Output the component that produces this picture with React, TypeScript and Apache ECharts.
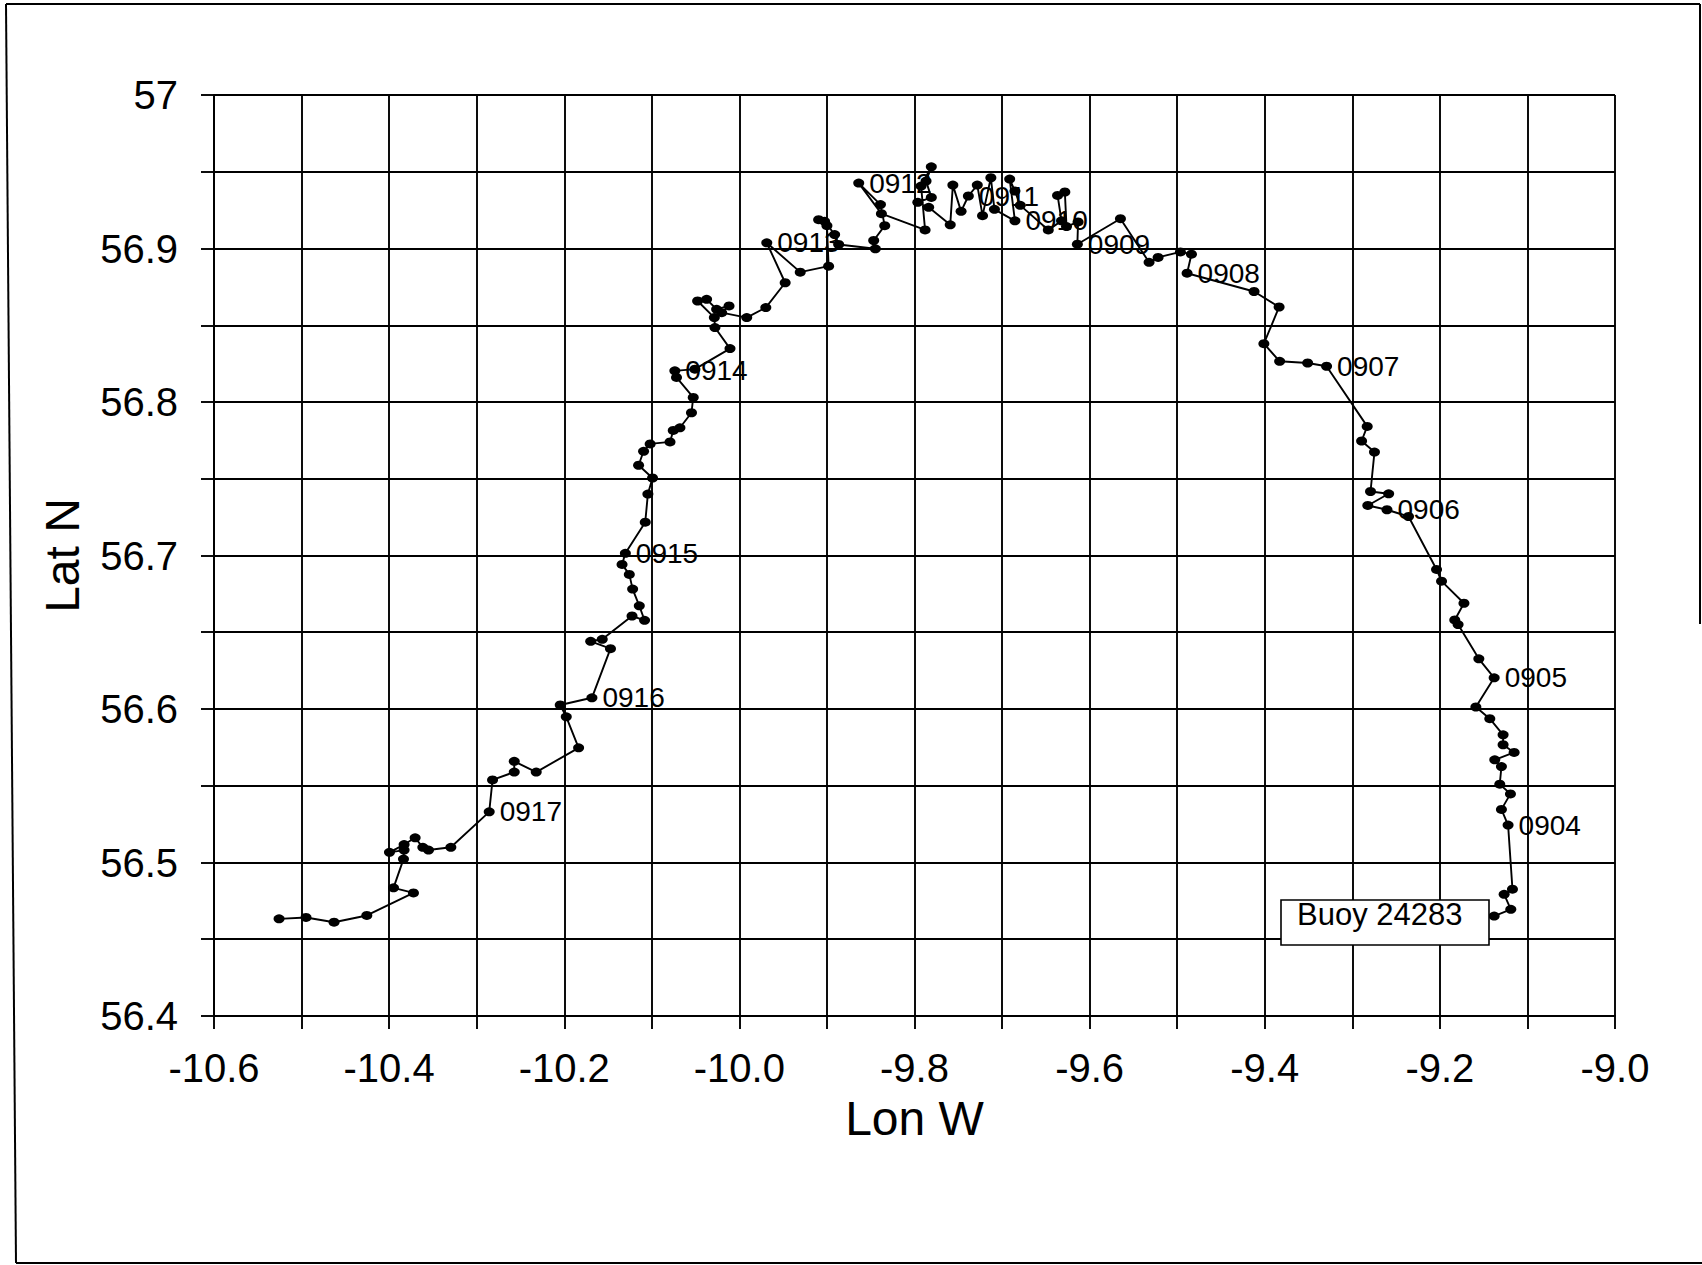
import React, { useEffect, useRef } from "react";
import * as echarts from "echarts";

// Buoy 24283 track, longitude (deg, west negative) in time order
const lon: number[] = [
  -9.138, -9.119, -9.1266, -9.1171, -9.1221, -9.1297, -9.1194, -9.1316, -9.1297, -9.1373,
  -9.1152, -9.1278, -9.1278, -9.143, -9.1589, -9.138, -9.1555, -9.1792, -9.183, -9.1725,
  -9.1981, -9.2038, -9.2358, -9.2604, -9.2823, -9.2585, -9.2792, -9.2747, -9.2894, -9.283,
  -9.3294, -9.351, -9.383, -9.401, -9.3836, -9.4122, -9.4887, -9.4837, -9.4963, -9.5218,
  -9.5321, -9.5648, -9.614, -9.6132, -9.6264, -9.6283, -9.6366, -9.6321, -9.6472, -9.6792,
  -9.6853, -9.6913, -9.6853, -9.7087, -9.7128, -9.7223, -9.7283, -9.7385, -9.7468, -9.7562,
  -9.7592, -9.7838, -9.7962, -9.7808, -9.7868, -9.7808, -9.7925, -9.7879, -9.8378, -9.8637,
  -9.8389, -9.834, -9.8466, -9.8447, -9.8866, -9.8912, -9.9027, -9.9095, -9.9, -9.8981,
  -9.9305, -9.9687, -9.9477, -9.9698, -9.9916, -10.0202, -10.0118, -10.026, -10.0374, -10.0477,
  -10.0286, -10.0279, -10.0107, -10.0508, -10.0737, -10.0718, -10.0527, -10.0547, -10.0679, -10.0755,
  -10.0792, -10.1019, -10.1094, -10.1151, -10.0992, -10.1045, -10.1075, -10.1302, -10.134, -10.1257,
  -10.1219, -10.1143, -10.1083, -10.1226, -10.1566, -10.1698, -10.1472, -10.1684, -10.2046, -10.1977,
  -10.1836, -10.232, -10.2571, -10.2571, -10.2819, -10.2857, -10.3295, -10.355, -10.3615, -10.3703,
  -10.3829, -10.3996, -10.3829, -10.3836, -10.395, -10.3722, -10.4255, -10.4629, -10.4949, -10.5257,
];

// latitude (deg N), same order
const lat: number[] = [
  56.4651, 56.4695, 56.4793, 56.4826, 56.5244, 56.5346, 56.5447, 56.551, 56.5625, 56.5669,
  56.5717, 56.5767, 56.5832, 56.5937, 56.6013, 56.6203, 56.6327, 56.655, 56.658, 56.6689,
  56.6833, 56.6909, 56.7254, 56.7298, 56.7326, 56.7402, 56.7417, 56.7674, 56.7746, 56.7841,
  56.8233, 56.8254, 56.8265, 56.838, 56.8619, 56.872, 56.8839, 56.8963, 56.8978, 56.8942,
  56.891, 56.9194, 56.9028, 56.9173, 56.9143, 56.9368, 56.9346, 56.918, 56.9121, 56.9281,
  56.9374, 56.9452, 56.918, 56.9255, 56.9461, 56.9214, 56.9413, 56.9342, 56.9242, 56.9413,
  56.9154, 56.9268, 56.9301, 56.9333, 56.9439, 56.9532, 56.9407, 56.9121, 56.9227, 56.9426,
  56.9286, 56.9149, 56.9052, 56.8998, 56.9026, 56.9091, 56.9177, 56.9188, 56.9149, 56.8885,
  56.8846, 56.9037, 56.8777, 56.8615, 56.855, 56.8582, 56.8626, 56.8604, 56.8669, 56.8658,
  56.855, 56.8485, 56.8348, 56.8214, 56.8203, 56.816, 56.803, 56.793, 56.7832, 56.7815,
  56.774, 56.7727, 56.7679, 56.7588, 56.7505, 56.74, 56.7217, 56.7014, 56.6942, 56.6877,
  56.6781, 56.6672, 56.6578, 56.6606, 56.6454, 56.6441, 56.6393, 56.6073, 56.6026, 56.5949,
  56.5747, 56.5589, 56.5659, 56.5589, 56.5538, 56.533, 56.5099, 56.5081, 56.5099, 56.5161,
  56.5117, 56.5066, 56.5081, 56.5022, 56.4835, 56.4802, 56.4655, 56.4611, 56.4642, 56.4633,
];

// daily position tags (MMDD) and the fix they are attached to
const dayTags: string[] = [
  "0904", "0905", "0906", "0907", "0908", "0909", "0910",
  "0911", "0912", "0913", "0914", "0915", "0916", "0917",
];
const dayTagIndex: number[] = [4, 15, 23, 30, 36, 42, 52, 57, 69, 81, 94, 107, 117, 125];

const xTitle = "Lon W";
const yTitle = "Lat N";
const buoyName = "Buoy 24283";

const FONT = '"Liberation Sans", Arial, Helvetica, sans-serif';

export default function App() {
  const ref = useRef<HTMLDivElement>(null);

  useEffect(() => {
    document.body.style.margin = "0";
    document.body.style.overflow = "hidden";
    if (!ref.current) return;
    const chart = echarts.init(ref.current, undefined, { renderer: "svg" });

    const data = lon.map((x, i) => {
      const k = dayTagIndex.indexOf(i);
      const item: any = { value: [x, lat[i]] };
      if (k >= 0) {
        item.label = {
          show: true,
          position: "right",
          distance: 5,
          formatter: dayTags[k],
          fontSize: 28,
          fontFamily: FONT,
          color: "#000",
        };
      }
      return item;
    });

    const gridLine = { color: "#000", width: 1.9 };

    chart.setOption({
      animation: false,
      backgroundColor: "#fff",
      grid: { left: 214, top: 95, width: 1401, height: 921, containLabel: false },
      xAxis: {
        type: "value",
        min: -10.6,
        max: -9.0,
        interval: 0.2,
        name: xTitle,
        nameLocation: "middle",
        nameGap: 80,
        nameMoveOverlap: false,
        nameTextStyle: { fontSize: 48, lineHeight: 44, fontFamily: FONT, color: "#000" },
        axisLine: { show: true, lineStyle: gridLine },
        axisTick: { show: true, inside: false, length: 13, lineStyle: gridLine },
        minorTick: { show: true, splitNumber: 2, length: 13, lineStyle: gridLine },
        splitLine: { show: true, lineStyle: gridLine },
        minorSplitLine: { show: true, lineStyle: gridLine },
        axisLabel: {
          fontSize: 40,
          lineHeight: 40,
          fontFamily: FONT,
          color: "#000",
          margin: 32,
          formatter: (v: number) => v.toFixed(1),
        },
      },
      yAxis: {
        type: "value",
        min: 56.4,
        max: 57,
        interval: 0.1,
        name: yTitle,
        nameLocation: "middle",
        nameGap: 128,
        nameMoveOverlap: false,
        nameTextStyle: { fontSize: 48, fontFamily: FONT, color: "#000" },
        axisLine: { show: true, lineStyle: gridLine },
        axisTick: { show: true, inside: false, length: 13, lineStyle: gridLine },
        minorTick: { show: true, splitNumber: 2, length: 13, lineStyle: gridLine },
        splitLine: { show: true, lineStyle: gridLine },
        minorSplitLine: { show: true, lineStyle: gridLine },
        axisLabel: {
          fontSize: 40,
          fontFamily: FONT,
          color: "#000",
          margin: 36,
          formatter: (v: number) => String(parseFloat(v.toFixed(1))),
        },
      },
      series: [
        {
          type: "line",
          data,
          symbol: "circle",
          symbolSize: [11, 9],
          showAllSymbol: true,
          lineStyle: { color: "#000", width: 1.9 },
          itemStyle: { color: "#000" },
          z: 5,
        },
      ],
      graphic: [
        {
          type: "rect",
          shape: { x: 1281, y: 900, width: 208, height: 45 },
          style: { fill: "#fff", stroke: "#000", lineWidth: 1.6 },
          z: 100,
        },
        {
          type: "text",
          x: 1297,
          y: 914,
          style: {
            text: buoyName,
            fontSize: 31,
            fontFamily: FONT,
            fill: "#000",
            verticalAlign: "middle",
            align: "left",
          },
          z: 101,
        },
        { type: "line", shape: { x1: 6, y1: 4, x2: 1700, y2: 4 }, style: { stroke: "#000", lineWidth: 2 }, z: 100 },
        { type: "line", shape: { x1: 6, y1: 4, x2: 16, y2: 1263 }, style: { stroke: "#000", lineWidth: 2 }, z: 100 },
        { type: "line", shape: { x1: 16, y1: 1263, x2: 1702, y2: 1263 }, style: { stroke: "#000", lineWidth: 2 }, z: 100 },
        { type: "line", shape: { x1: 1700, y1: 4, x2: 1700, y2: 624 }, style: { stroke: "#000", lineWidth: 2 }, z: 100 },
      ],
    });

    return () => {
      chart.dispose();
    };
  }, []);

  return <div ref={ref} style={{ width: 1702, height: 1265, background: "#fff" }} />;
}
